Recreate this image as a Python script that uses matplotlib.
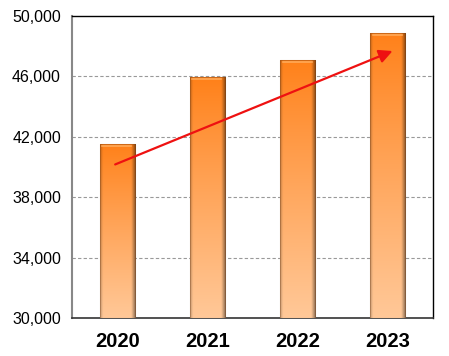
import numpy as np
import matplotlib
matplotlib.use("Agg")
import matplotlib.pyplot as plt
from matplotlib.patches import FancyArrowPatch

years = ["2020", "2021", "2022", "2023"]
values = [41500, 45950, 47100, 48900]
yticks = [30000, 34000, 38000, 42000, 46000, 50000]
trend_start = (-0.05, 40100)
trend_end = (3.08, 47750)

plt.rcParams['font.family'] = ['Liberation Sans', 'DejaVu Sans']
fig = plt.figure(figsize=(4.49, 3.56), dpi=100)
ax = fig.add_axes([72/449, 1-318/356, 361/449, 302/356])
ax.set_xlim(-0.5, 3.5)
ax.set_ylim(30000, 50000)

bar_w = 0.39
top_c = np.array([0xFF, 0x80, 0x18]) / 255
bot_c = np.array([0xFF, 0xC8, 0x98]) / 255
for i, v in enumerate(values):
    bars = ax.bar(i, v - 30000, bottom=30000, width=bar_w, color='none',
                  edgecolor=(0.45, 0.25, 0.1, 0.35), linewidth=0.8, zorder=4)
    rect = bars[0]
    ny, nx = 200, 40
    t = np.linspace(0, 1, ny)[:, None]
    tt = np.clip(t ** 0.9, 0, 1)
    img = top_c[None, None, :] * (1 - tt[..., None]) + bot_c[None, None, :] * tt[..., None]
    img = np.repeat(img, nx, axis=1)
    xs = np.linspace(0, 1, nx)[None, :]
    shade = np.ones((ny, nx))
    shade = shade * (1 - 0.45 * np.clip((xs - 0.88) / 0.12, 0, 1))
    shade = shade * (1 - 0.2 * np.clip((0.08 - xs) / 0.08, 0, 1))
    img = np.clip(img * shade[..., None], 0, 1)
    ext = [i - bar_w/2, i + bar_w/2, 30000, v]
    im = ax.imshow(img, extent=ext, aspect='auto', zorder=3, interpolation='bilinear')
    im.set_clip_path(rect)
    ax.plot([i - bar_w/2 + 0.03, i + bar_w/2 - 0.04], [v - 130, v - 130], color='#FFB468',
            lw=1.2, zorder=4, alpha=0.8)

ax.set_yticks(yticks)
ax.set_yticklabels([f"{y:,}" for y in yticks], fontsize=11.5)
ax.set_xticks(range(len(years)))
ax.set_xticklabels(years, fontsize=14.5, fontweight='bold')
ax.tick_params(axis='both', length=0)
ax.tick_params(axis='x', pad=10)
ax.tick_params(axis='y', pad=8)
for y in yticks[1:-1]:
    ax.axhline(y, color='#999999', lw=0.8, ls=(0, (3, 2)), zorder=1)

for s in ['top', 'right']:
    ax.spines[s].set_color('black')
    ax.spines[s].set_linewidth(1.0)
ax.spines['left'].set_color('#888888')
ax.spines['left'].set_linewidth(1.5)
ax.spines['bottom'].set_color('#333333')
ax.spines['bottom'].set_linewidth(1.2)

arr = FancyArrowPatch(trend_start, trend_end, arrowstyle='-|>,head_length=8,head_width=4',
                      color='#EE1111', lw=1.6, zorder=5, mutation_scale=1)
ax.add_patch(arr)

fig.savefig("out.png", dpi=100)
